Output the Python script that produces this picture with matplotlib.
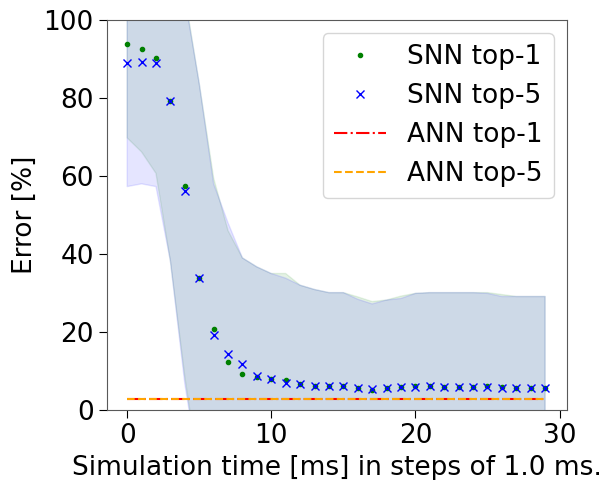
import matplotlib
matplotlib.use("Agg")
import matplotlib.pyplot as plt
import numpy as np

# time steps
steps = np.arange(30)

# SNN error means [%]
snn_top1 = [93.8, 92.6, 90.3, 79.2, 57.5, 33.8, 20.8, 12.3, 9.3, 8.5,
            7.9, 7.8, 6.7, 6.2, 6.2, 6.1, 5.6, 5.1, 5.5, 5.8,
            6.1, 6.1, 6.0, 6.0, 6.0, 6.2, 5.8, 5.7, 5.7, 5.7]
snn_top5 = [89.1, 89.2, 89.0, 79.2, 56.2, 33.8, 19.2, 14.4, 11.7, 8.7,
            8.0, 7.0, 6.7, 6.2, 6.2, 6.1, 5.6, 5.4, 5.5, 5.8,
            5.8, 6.1, 6.0, 6.0, 6.0, 6.0, 5.7, 5.7, 5.7, 5.7]

# SNN error spread (std) [%]
snn_top1_std = [24.0, 26.4, 29.6, 41.0, 49.0, 50.0, 38.7, 33.7, 29.7, 28.2,
                27.1, 27.2, 25.3, 24.7, 23.9, 24.0, 23.4, 22.7, 22.7, 23.4,
                23.8, 24.0, 24.1, 24.1, 24.1, 23.9, 23.8, 23.4, 23.4, 23.4]
snn_top5_std = [31.8, 31.2, 31.7, 41.0, 49.5, 50.0, 38.8, 33.6, 27.3, 28.0,
                27.0, 26.8, 25.3, 24.7, 23.9, 24.0, 22.8, 21.8, 22.7, 22.8,
                24.1, 24.0, 24.1, 24.1, 24.1, 23.9, 23.4, 23.4, 23.4, 23.4]

# ANN reference errors [%]
ann_top1 = 2.7
ann_top5 = 2.7

fs = 19

fig = plt.figure(figsize=(6.01, 4.8), dpi=100)
ax = fig.add_axes([0.178, 0.146, 0.765, 0.812])

t1 = np.array(snn_top1)
t5 = np.array(snn_top5)
s1 = np.array(snn_top1_std)
s5 = np.array(snn_top5_std)

ax.plot(steps, t1, '.', color='green', label='SNN top-1')
ax.fill_between(steps, t1 - s1, t1 + s1, color='green', alpha=0.1)
ax.plot(steps, t5, 'x', color='blue', markersize=6, label='SNN top-5')
ax.fill_between(steps, t5 - s5, t5 + s5, color='blue', alpha=0.1)
ax.plot(steps, [ann_top1] * len(steps), '-.', color='red', label='ANN top-1')
ax.plot(steps, [ann_top5] * len(steps), '--', color='orange', label='ANN top-5')

ax.set_ylim(0, 100)
ax.set_xlim(-1.4, 30.5)
ax.set_xticks([0, 10, 20, 30])
ax.set_yticks([0, 20, 40, 60, 80, 100])
ax.tick_params(labelsize=fs, length=6)
for sp in ax.spines.values():
    sp.set_color('0.35')
ax.set_xlabel('Simulation time [ms] in steps of 1.0 ms.', fontsize=fs)
ax.set_ylabel('Error [%]', fontsize=fs)
ax.legend(loc='upper right', fontsize=fs)

fig.savefig('out.png', dpi=100)
